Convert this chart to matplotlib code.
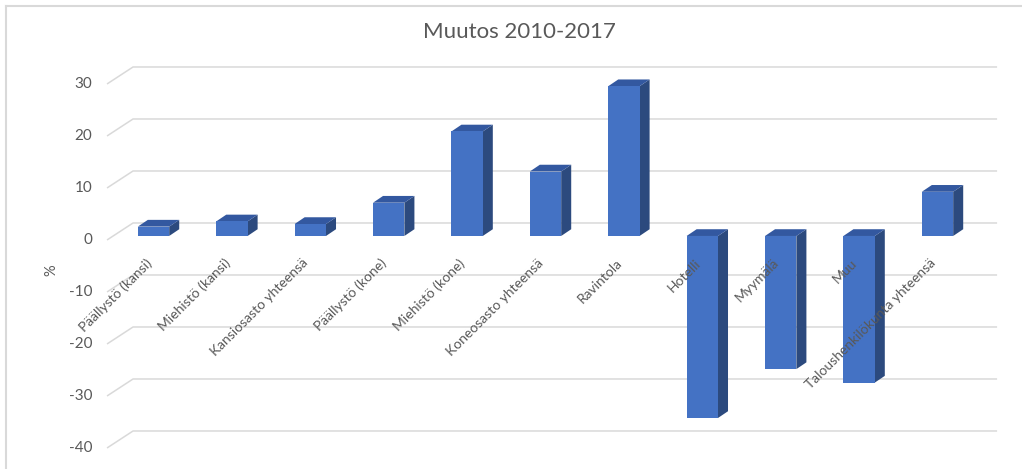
import numpy as np
import matplotlib.pyplot as plt
from matplotlib.patches import Polygon

categories = ["Päällystö (kansi)", "Miehistö (kansi)", "Kansiosasto yhteensä",
              "Päällystö (kone)", "Miehistö (kone)", "Koneosasto yhteensä",
              "Ravintola", "Hotelli", "Myymälä", "Muu",
              "Taloushenkilökunta yhteensä"]
values = [1.8, 2.8, 2.3, 6.4, 20.1, 12.4, 28.8, -35.0, -25.6, -28.2, 8.5]
yticks = [30, 20, 10, 0, -10, -20, -30, -40]

front_col = "#4472C4"
side_col = "#2C4A7E"
top_col = "#3358A0"
grid_col = "#D9D9D9"
text_col = "#595959"

fig = plt.figure(figsize=(10.22, 4.69), dpi=100)
ax = fig.add_axes([0, 0, 1, 1])
# x: category index, y: value (pixel mapping chosen to match the reference layout)
ax.set_xlim(-1.958, 11.078)
ax.set_ylim(-44.81, 45.38)
ax.axis("off")

# pseudo-3D wall geometry
wall_back_x, wall_front_x, wall_end_x = -0.261, -0.593, 10.76
back_dy, front_dy = 2.5, -0.77

for t in yticks:
    ax.plot([wall_front_x, wall_back_x, wall_end_x],
            [t + front_dy, t + back_dy, t + back_dy],
            color=grid_col, lw=1.1, zorder=1, solid_capstyle="butt")
    ax.text(-0.78, t - 0.77, str(t), ha="right", va="center",
            fontsize=11, color=text_col, family="Lato")

# bars
hw, ddx, ddy = 0.2, 0.128, 1.3
for i, v in enumerate(values):
    lo, hi = min(0, v), max(0, v)
    x0, x1 = i - hw, i + hw
    ax.add_patch(Polygon([(x1, lo), (x1 + ddx, lo + ddy), (x1 + ddx, hi + ddy), (x1, hi)],
                         closed=True, fc=side_col, ec="none", zorder=3))
    ax.add_patch(Polygon([(x0, hi), (x0 + ddx, hi + ddy), (x1 + ddx, hi + ddy), (x1, hi)],
                         closed=True, fc=top_col, ec="none", zorder=3))
    ax.add_patch(Polygon([(x0, lo), (x1, lo), (x1, hi), (x0, hi)],
                         closed=True, fc=front_col, ec="none", zorder=4))

for i, name in enumerate(categories):
    ax.text(i - 0.05, -4.8, name, rotation=45, rotation_mode="anchor",
            ha="right", va="center", fontsize=10, color=text_col,
            family="Lato", zorder=5)

ax.text(-1.3, -6.6, "%", rotation=90, ha="center", va="center",
        fontsize=10.5, color=text_col, family="Lato")

fig.text(0.508, 0.932, "Muutos 2010-2017", ha="center", va="center",
         fontsize=16, color=text_col, family="Lato")

# outer chart frame (only top and left visible in the crop)
fig.add_artist(plt.Line2D([0.0056, 0.0056], [0, 0.988], color=grid_col, lw=1.5))
fig.add_artist(plt.Line2D([0.0056, 1], [0.988, 0.988], color=grid_col, lw=1.5))

fig.savefig("out.png", dpi=100)
